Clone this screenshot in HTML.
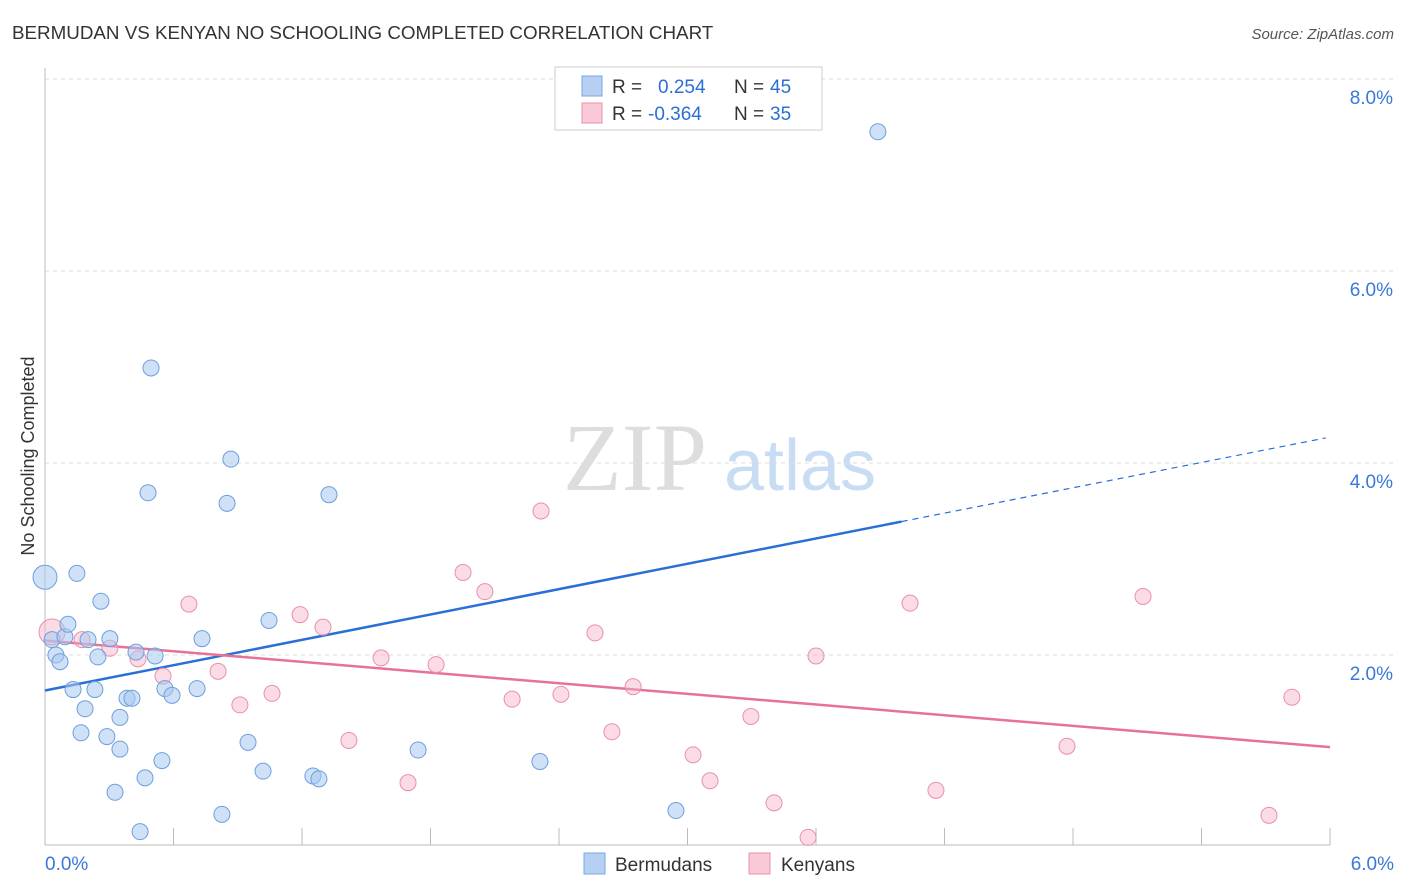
<!DOCTYPE html>
<html><head><meta charset="utf-8"><style>
body{margin:0;background:#fff;font-family:"Liberation Sans",sans-serif}
svg{display:block}
</style></head><body>
<svg width="1406" height="892" id="chart">
<text x="12" y="39" font-size="18.8" fill="#333">BERMUDAN VS KENYAN NO SCHOOLING COMPLETED CORRELATION CHART</text>
<text x="1394" y="39" font-size="15" fill="#555" font-style="italic" text-anchor="end">Source: ZipAtlas.com</text>
<text transform="translate(34,456) rotate(-90)" font-size="18" fill="#333" text-anchor="middle">No Schooling Completed</text>
<g>
<text x="635" y="490" font-family="Liberation Serif,serif" font-size="96" fill="#ddd" text-anchor="middle">ZIP</text>
<text x="800" y="490" font-size="72" fill="#c8dcf4" text-anchor="middle">atlas</text>
</g>
<g id="grid"></g><g id="axes"></g><g id="lines"></g><g id="pts"></g>
<g>
<rect x="555" y="67" width="267" height="63" fill="#fff" stroke="#ccc"/>
<rect x="582" y="76" width="20" height="20" fill="#b6d0f4" stroke="#7aa8e0"/>
<rect x="582" y="103" width="20" height="20" fill="#f9c9d7" stroke="#e890aa"/>
<text x="612" y="93" font-size="19" fill="#333">R =</text>
<text x="658" y="93" font-size="19" fill="#2a6fd6">0.254</text>
<text x="734" y="93" font-size="19" fill="#333">N =</text>
<text x="770" y="93" font-size="19" fill="#2a6fd6">45</text>
<text x="612" y="120" font-size="19" fill="#333">R =</text>
<text x="648" y="120" font-size="19" fill="#2a6fd6">-0.364</text>
<text x="734" y="120" font-size="19" fill="#333">N =</text>
<text x="770" y="120" font-size="19" fill="#2a6fd6">35</text>
</g>
<g>
<rect x="584" y="853" width="21" height="21" fill="#b6d0f4" stroke="#7aa8e0"/>
<text x="615" y="871" font-size="19" fill="#333">Bermudans</text>
<rect x="749" y="853" width="21" height="21" fill="#f9c9d7" stroke="#e890aa"/>
<text x="781" y="871" font-size="19" fill="#333">Kenyans</text>
</g>
</svg>
<script>
const yTicks=[2,4,6,8];
const xTickLabels=["0.0%","6.0%"];
const blueX=[0.00,0.033,0.051,0.070,0.093,0.107,0.149,0.201,0.131,0.187,0.168,0.233,0.247,0.261,0.289,0.303,0.327,0.350,0.350,0.383,0.406,0.425,0.444,0.467,0.481,0.495,0.514,0.546,0.560,0.593,0.710,0.733,0.826,0.850,0.868,0.948,1.018,1.046,1.251,1.279,1.326,1.742,2.311,2.946,3.889];
const blueY=[2.81,2.16,2.00,1.93,2.19,2.32,2.85,2.16,1.64,1.44,1.19,1.64,1.98,2.56,1.15,2.17,0.57,1.02,1.35,1.55,1.55,2.03,0.16,0.72,3.69,4.99,1.99,0.90,1.65,1.58,1.65,2.17,0.34,3.58,4.04,1.09,0.79,2.36,0.74,0.71,3.67,1.01,0.89,0.38,7.45];
const pinkX=[0.033,0.173,0.303,0.434,0.551,0.672,0.808,0.910,1.060,1.191,1.298,1.419,1.569,1.695,1.826,2.181,2.316,2.409,2.568,2.647,2.746,1.952,2.054,3.026,3.105,3.296,3.404,3.563,3.600,4.039,4.160,4.772,5.127,5.715,5.822];
const pinkY=[2.24,2.16,2.07,1.96,1.78,2.53,1.83,1.48,1.60,2.42,2.29,1.11,1.97,0.67,1.90,1.54,3.50,1.59,2.23,1.20,1.67,2.86,2.66,0.96,0.69,1.36,0.46,0.10,1.99,2.54,0.59,1.05,2.61,0.33,1.56];
const blueTrend=[1.63,3.39];   // y at x=0 and x=4.0
const pinkTrend=[2.15,1.04];   // y at x=0 and x=6.0
const X=v=>45+v*214.17, Y=v=>847-v*96;
const NS="http://www.w3.org/2000/svg";
function mk(p,t,a){const e=document.createElementNS(NS,t);for(const k in a)e.setAttribute(k,a[k]);document.getElementById(p).appendChild(e);return e;}
yTicks.forEach(t=>{
 const l=mk('grid','line',{x1:45,x2:1394,y1:Y(t),y2:Y(t),stroke:'#ddd','stroke-dasharray':'4,4'});
 
 
 const tx=mk('grid','text',{x:1393,y:Y(t)+25,'font-size':19,fill:'#3a78d8','text-anchor':'end'});
 tx.textContent=t.toFixed(1)+'%';
 
 
});
const ax=mk('axes','line',{x1:45,x2:45,y1:68,y2:845,stroke:'#bbb'});


const bx=mk('axes','line',{x1:45,x2:1330,y1:845,y2:845,stroke:'#bbb'});


for(let i=0;i<=10;i++){const t=mk('axes','line',{x1:X(i*0.6),x2:X(i*0.6),y1:828,y2:845,stroke:'#bbb'});
 
 }
[[0,45,'start'],[1,1394,'end']].forEach(([i,x,a])=>{const t=mk('axes','text',{x:x,y:870,'font-size':19,fill:'#3a78d8','text-anchor':a});t.textContent=xTickLabels[i];
 
 });
const bs=(blueTrend[1]-blueTrend[0])/4.0;
const b1=mk('lines','line',{x1:X(0),y1:Y(blueTrend[0]),x2:X(4.0),y2:Y(blueTrend[1]),stroke:'#2a6fd6','stroke-width':2.5});


const b2=mk('lines','line',{x1:X(4.0),y1:Y(blueTrend[1]),x2:X(5.98),y2:Y(blueTrend[0]+bs*5.98),stroke:'#2a6fd6','stroke-width':1.2,'stroke-dasharray':'6,5'});


const p1=mk('lines','line',{x1:X(0),y1:Y(pinkTrend[0]),x2:X(6),y2:Y(pinkTrend[1]),stroke:'#e8719a','stroke-width':2.5});


pinkX.forEach((x,i)=>{const c=mk('pts','circle',{cx:X(x),cy:Y(pinkY[i]),r:i==0?13:8,fill:'rgba(246,178,200,0.45)',stroke:'#e890aa','stroke-width':1});
 
 });
blueX.forEach((x,i)=>{const c=mk('pts','circle',{cx:X(x),cy:Y(blueY[i]),r:i==0?12:8,fill:'rgba(168,200,240,0.55)',stroke:'#6e9fdc','stroke-width':1});
 
 });
</script>
</body></html>
